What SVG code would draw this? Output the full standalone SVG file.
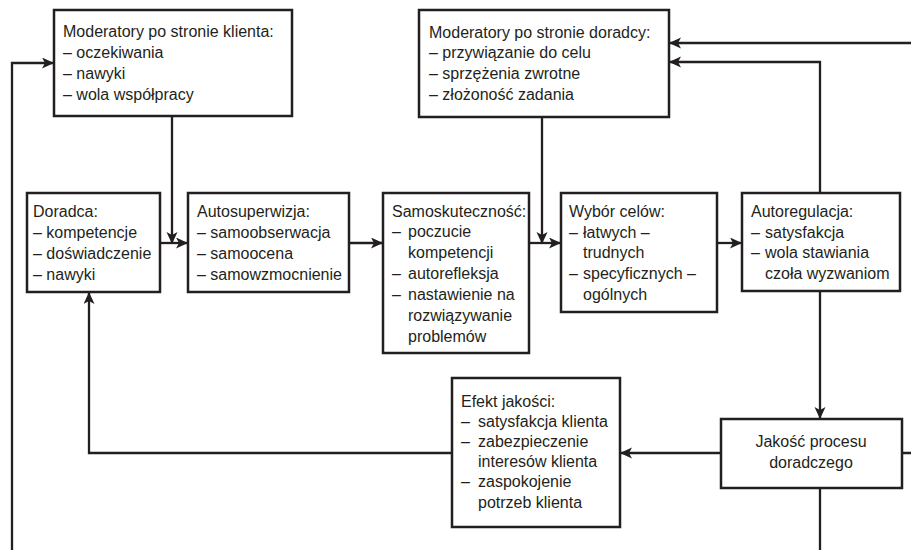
<svg xmlns="http://www.w3.org/2000/svg" width="911" height="550" viewBox="0 0 911 550">
<style>
.box{fill:#fff;stroke:#231f20;stroke-width:2.5}
.t{font-family:"Liberation Sans",Arial,sans-serif;font-size:16px;fill:#231f20}
.c{fill:none;stroke:#231f20;stroke-width:2.3;marker-end:url(#ah)}
</style>
<defs>
<marker id="ah" markerUnits="userSpaceOnUse" markerWidth="13" markerHeight="12" refX="12" refY="5.5" orient="auto">
<path d="M0,0 L12,5.5 L0,11 L3,5.5 Z" fill="#231f20"/>
</marker>
</defs>
<rect width="911" height="550" fill="#fff"/>
<g id="connectors">
<path class="c" d="M820,488 V556 H12 V63 H54"/>
<path class="c" d="M902,453 H916 V43 H669"/>
<path class="c" d="M820,193 V62 H669"/>
<path class="c" d="M172,116 V244"/>
<path class="c" d="M160,243 H188"/>
<path class="c" d="M349,243 H383"/>
<path class="c" d="M529,243 H561"/>
<path class="c" d="M542,117 V244"/>
<path class="c" d="M717,243 H742"/>
<path class="c" d="M820,291 V419"/>
<path class="c" d="M721,453 H620"/>
<path class="c" d="M452,453 H89 V292"/>
</g>
<g id="mod-klienta">
<rect class="box" x="54" y="10" width="238" height="106"/>
<text class="t" x="63" y="37">Moderatory po stronie klienta:</text>
<text class="t" x="63" y="58">– oczekiwania</text>
<text class="t" x="63" y="79">– nawyki</text>
<text class="t" x="63" y="100">– wola współpracy</text>
</g>
<g id="mod-doradcy">
<rect class="box" x="419" y="10" width="250" height="107"/>
<text class="t" x="429" y="38">Moderatory po stronie doradcy:</text>
<text class="t" x="429" y="58">– przywiązanie do celu</text>
<text class="t" x="429" y="79">– sprzężenia zwrotne</text>
<text class="t" x="429" y="100">– złożoność zadania</text>
</g>
<g id="doradca">
<rect class="box" x="27" y="193" width="133" height="99"/>
<text class="t" x="33" y="217">Doradca:</text>
<text class="t" x="33" y="238">– kompetencje</text>
<text class="t" x="33" y="259">– doświadczenie</text>
<text class="t" x="33" y="280">– nawyki</text>
</g>
<g id="autosuperwizja">
<rect class="box" x="188" y="193" width="161" height="99"/>
<text class="t" x="197" y="217">Autosuperwizja:</text>
<text class="t" x="197" y="238">– samoobserwacja</text>
<text class="t" x="197" y="259">– samoocena</text>
<text class="t" x="197" y="280">– samowzmocnienie</text>
</g>
<g id="samoskutecznosc">
<rect class="box" x="383" y="193" width="146" height="160"/>
<text class="t" x="392" y="217">Samoskuteczność:</text>
<text class="t" y="237"><tspan x="392">–</tspan><tspan x="408">poczucie</tspan></text>
<text class="t" x="408" y="258">kompetencji</text>
<text class="t" y="279"><tspan x="392">–</tspan><tspan x="408">autorefleksja</tspan></text>
<text class="t" y="300"><tspan x="392">–</tspan><tspan x="408">nastawienie na</tspan></text>
<text class="t" x="408" y="321">rozwiązywanie</text>
<text class="t" x="408" y="342">problemów</text>
</g>
<g id="wybor-celow">
<rect class="box" x="561" y="193" width="156" height="119"/>
<text class="t" x="569" y="217">Wybór celów:</text>
<text class="t" y="238"><tspan x="569">–</tspan><tspan x="583">łatwych –</tspan></text>
<text class="t" x="583" y="258">trudnych</text>
<text class="t" y="279"><tspan x="569">–</tspan><tspan x="583">specyficznych –</tspan></text>
<text class="t" x="583" y="300">ogólnych</text>
</g>
<g id="autoregulacja">
<rect class="box" x="742" y="193" width="158" height="98"/>
<text class="t" x="751" y="217">Autoregulacja:</text>
<text class="t" y="238"><tspan x="751">–</tspan><tspan x="765">satysfakcja</tspan></text>
<text class="t" y="258"><tspan x="751">–</tspan><tspan x="765">wola stawiania</tspan></text>
<text class="t" x="765" y="279">czoła wyzwaniom</text>
</g>
<g id="efekt-jakosci">
<rect class="box" x="452" y="378" width="168" height="149"/>
<text class="t" x="461" y="407">Efekt jakości:</text>
<text class="t" y="427"><tspan x="461">–</tspan><tspan x="478">satysfakcja klienta</tspan></text>
<text class="t" y="447"><tspan x="461">–</tspan><tspan x="478">zabezpieczenie</tspan></text>
<text class="t" x="478" y="467">interesów klienta</text>
<text class="t" y="487"><tspan x="461">–</tspan><tspan x="478">zaspokojenie</tspan></text>
<text class="t" x="478" y="508">potrzeb klienta</text>
</g>
<g id="jakosc-procesu">
<rect class="box" x="721" y="419" width="181" height="69"/>
<text class="t" x="811" y="447" text-anchor="middle">Jakość procesu</text>
<text class="t" x="811" y="468" text-anchor="middle">doradczego</text>
</g>
</svg>
